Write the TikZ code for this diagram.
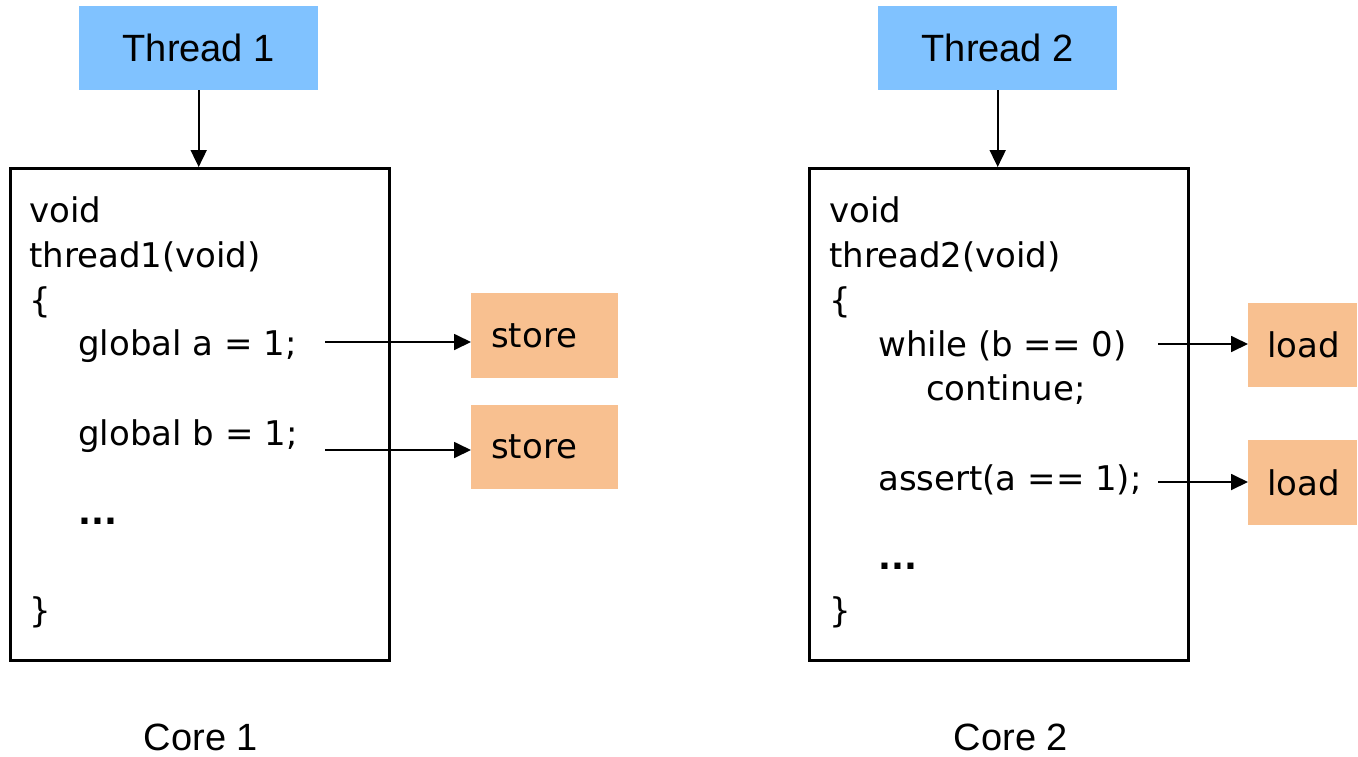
\documentclass[tikz,border=0pt]{standalone}
\usepackage{fontspec}
\setmainfont{DejaVu Sans}
\newfontfamily\labelfont{Liberation Sans}
\usetikzlibrary{arrows.meta}

\definecolor{threadblue}{RGB}{128,194,255}
\definecolor{opfill}{RGB}{248,192,144}

\tikzset{
  codeline/.style={anchor=base west, inner sep=0pt, font=\fontsize{34}{40}\selectfont},
  threadbox/.style={fill=threadblue, draw=none, minimum width=239pt, minimum height=84pt,
    anchor=north west, inner sep=0pt, font=\labelfont\fontsize{38}{44}\selectfont},
  corebox/.style={draw=black, line width=2.5pt, minimum width=379pt, minimum height=492pt,
    anchor=north west, inner sep=0pt},
  opbox/.style={fill=opfill, draw=none, anchor=north west, inner ysep=0pt, inner xsep=20pt,
    align=left, font=\fontsize{34}{40}\selectfont},
  corelabel/.style={anchor=base, inner sep=0pt, text depth=0pt,
    font=\labelfont\fontsize{38}{44}\selectfont},
  arr/.style={line width=1.8pt, -{Triangle[length=17pt,width=16pt]}}
}

\begin{document}
\begin{tikzpicture}[x=1pt,y=-1pt]
\useasboundingbox (0,0) rectangle (1358,756);

% thread headers
\node[threadbox] (t1) at (79,6) {Thread 1};
\node[threadbox] (t2) at (878,6) {Thread 2};

% core frames
\node[corebox] (c1) at (9,167) {};
\node[corebox] (c2) at (808,167) {};

\draw[arr] (t1.south) -- (t1.south |- c1.north);
\draw[arr] (t2.south) -- (t2.south |- c2.north);

% code of thread 1
\node[codeline] (a1) at (29,222) {void};
\node[codeline] (a2) at (29,267) {thread1(void)};
\node[codeline] (a3) at (29,312) {\{};
\node[codeline] (a4) at (78,355) {global a = 1;};
\node[codeline] (a5) at (78,445) {global b = 1;};
\node[codeline] (a6) at (78,524) {\textbf{...}};
\node[codeline] (a7) at (29,622) {\}};

% code of thread 2
\node[codeline] (b1) at (829,222) {void};
\node[codeline] (b2) at (829,267) {thread2(void)};
\node[codeline] (b3) at (829,312) {\{};
\node[codeline] (b4) at (878,356) {while (b == 0)};
\node[codeline] (b5) at (926,400) {continue;};
\node[codeline] (b6) at (878,490) {assert(a == 1);};
\node[codeline] (b7) at (878,569) {\textbf{...}};
\node[codeline] (b8) at (829,622) {\}};

% memory operations
\node[opbox, text width=107pt, minimum height=85pt] (s1) at (471,293) {store};
\node[opbox, text width=107pt, minimum height=84pt] (s2) at (471,405) {store};
\node[opbox, text width=71pt, inner xsep=19pt, minimum height=84pt] (l1) at (1248,303) {load};
\node[opbox, text width=71pt, inner xsep=19pt, minimum height=85pt] (l2) at (1248,440) {load};

\coordinate (as1) at (325,342);
\coordinate (as2) at (325,450);
\coordinate (al1) at (1158,344);
\coordinate (al2) at (1158,482);
\draw[arr] (as1) -- (as1 -| s1.west);
\draw[arr] (as2) -- (as2 -| s2.west);
\draw[arr] (al1) -- (al1 -| l1.west);
\draw[arr] (al2) -- (al2 -| l2.west);

% core captions
\node[corelabel] (k1) at (201,750) {Core 1};
\node[corelabel] (k2) at (1011,750) {Core 2};
\end{tikzpicture}
\end{document}
